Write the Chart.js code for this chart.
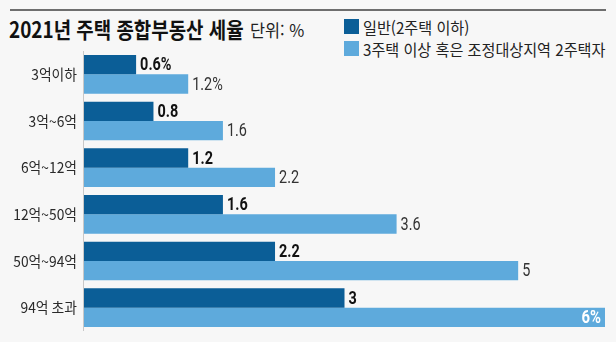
<!DOCTYPE html>
<html lang="ko">
<head>
<meta charset="utf-8">
<script src="https://cdn.jsdelivr.net/npm/chart.js@4/dist/chart.umd.min.js"></script>
<style>
    html, body { margin: 0; padding: 0; background: #f7f7f7; }
    .wrap { position: relative; width: 616px; height: 342px; overflow: hidden; font-family: "Noto Sans CJK KR", sans-serif; }
    .rule { position: absolute; left: 10px; top: 9px; width: 596px; height: 0; border-top: 2px solid #6e6e6e; }
    .title { position: absolute; left: 9px; top: 12px; white-space: nowrap; font-size: 22px; font-weight: 700; color: #111; transform: scaleX(0.86); transform-origin: left top; }
    .unit { position: absolute; left: 250px; top: 17px; white-space: nowrap; font-size: 17px; color: #222; transform: scaleX(0.96); transform-origin: left top; }
    .legend { position: absolute; left: 344px; top: 16px; }
    .legend div { position: relative; height: 22px; }
    .legend i { position: absolute; left: 0; top: 3px; width: 15px; height: 15px; }
    .legend span { position: absolute; left: 19px; top: -1px; font-size: 16px; color: #222; white-space: nowrap; transform: scaleX(0.945); transform-origin: left top; }
    canvas { position: absolute; left: 0; top: 0; }
</style>
</head>
<body>
<div class="wrap">
    <div class="rule"></div>
    <div class="title">2021년 주택 종합부동산 세율</div>
    <div class="unit">단위: %</div>
    <div class="legend">
        <div><i style="background:#0b5e97"></i><span>일반(2주택 이하)</span></div>
        <div><i style="background:#5eaadc"></i><span>3주택 이상 혹은 조정대상지역 2주택자</span></div>
    </div>
    <canvas id="taxChart" width="616" height="342"></canvas>
</div>
<script>
// 데이터
const categories = ['3억이하', '3억~6억', '6억~12억', '12억~50억', '50억~94억', '94억 초과'];
const generalRates = [0.6, 0.8, 1.2, 1.6, 2.2, 3];
const heavyRates = [1.2, 1.6, 2.2, 3.6, 5, 6];
const generalLabels = ['0.6%', '0.8', '1.2', '1.6', '2.2', '3'];
const heavyLabels = ['1.2%', '1.6', '2.2', '3.6', '5', '6%'];

// 막대 옆 숫자와 세로축 항목 이름을 그리는 플러그인
const labelPlugin = {
    id: 'labelPlugin',
    afterDatasetsDraw(chart) {
        const ctx = chart.ctx;
        const x = chart.scales.x;
        const y = chart.scales.y;
        const area = chart.chartArea;

        // 세로축 선
        ctx.save();
        ctx.strokeStyle = '#c8c8c8';
        ctx.lineWidth = 1;
        ctx.beginPath();
        ctx.moveTo(x.getPixelForValue(0) - 0.5, area.top);
        ctx.lineTo(x.getPixelForValue(0) - 0.5, area.bottom);
        ctx.stroke();
        ctx.restore();

        // 항목 이름
        categories.forEach(function (name, i) {
            ctx.save();
            ctx.translate(x.getPixelForValue(0) - 7, y.getPixelForValue(i));
            ctx.scale(0.92, 1);
            ctx.font = '15px "Noto Sans CJK KR"';
            ctx.fillStyle = '#2a2a2a';
            ctx.textAlign = 'right';
            ctx.textBaseline = 'middle';
            ctx.fillText(name, 0, 0);
            ctx.restore();
        });

        // 값 라벨
        [generalLabels, heavyLabels].forEach(function (labels, d) {
            const meta = chart.getDatasetMeta(d);
            meta.data.forEach(function (bar, i) {
                const inside = (d === 1 && i === labels.length - 1);
                ctx.save();
                ctx.textBaseline = 'middle';
                if (inside) {
                    ctx.translate(bar.x - 4, bar.y + 1);
                    ctx.scale(0.78, 1);
                    ctx.font = 'bold 19px Roboto';
                    ctx.fillStyle = '#fff';
                    ctx.textAlign = 'right';
                } else {
                    ctx.translate(bar.x + 4, bar.y + 1);
                    ctx.scale(0.76, 1);
                    ctx.font = (d === 0 ? 'bold ' : '') + '19px Roboto';
                    ctx.fillStyle = d === 0 ? '#111' : '#333';
                    ctx.textAlign = 'left';
                }
                ctx.fillText(labels[i], 0, 0);
                ctx.restore();
            });
        });
    }
};

const ctxTax = document.getElementById('taxChart').getContext('2d');
const taxChart = new Chart(ctxTax, {
    type: 'bar',
    data: {
        labels: categories,
        datasets: [{
            label: '일반(2주택 이하)',
            data: generalRates,
            backgroundColor: '#0b5e97',
        }, {
            label: '3주택 이상 혹은 조정대상지역 2주택자',
            data: heavyRates,
            backgroundColor: '#5eaadc',
        }]
    },
    options: {
        responsive: false,
        animation: false,
        indexAxis: 'y',  // 가로 막대
        categoryPercentage: 0.83,
        barPercentage: 1,
        layout: {
            padding: { left: 84, right: 11, top: 51, bottom: 11 }
        },
        scales: {
            x: { display: false, min: 0, max: 6 },
            y: { display: false }
        },
        plugins: {
            legend: { display: false },
            title: { display: false },
            tooltip: { enabled: false }
        }
    },
    plugins: [labelPlugin]
});
</script>
</body>
</html>
